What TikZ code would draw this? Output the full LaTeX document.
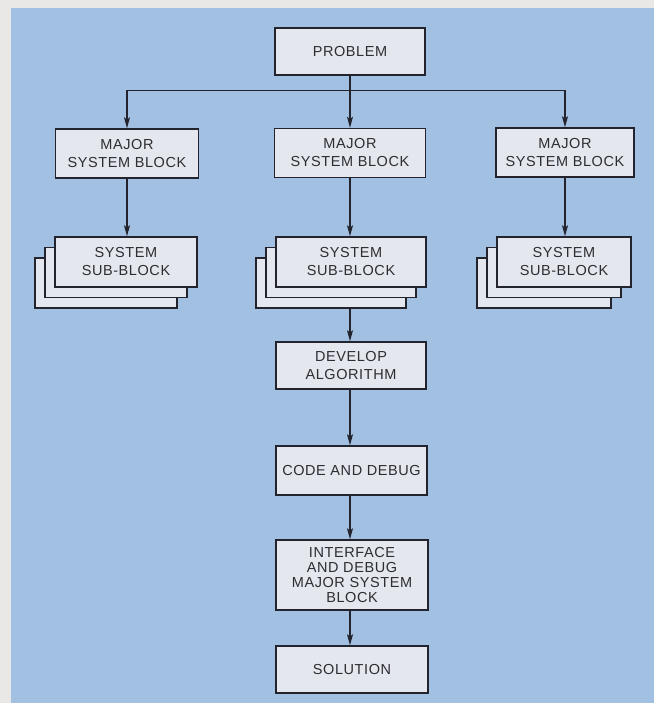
\documentclass[tikz,border=0pt]{standalone}
\usepackage{fontspec}
\setmainfont{Liberation Sans}[LetterSpace=4]
\usetikzlibrary{arrows.meta}
\definecolor{outerbg}{RGB}{234,232,230}
\definecolor{bluebg}{RGB}{162,192,226}
\definecolor{boxfill}{RGB}{229,231,238}
\definecolor{ink}{RGB}{35,35,45}
\definecolor{txt}{RGB}{45,45,52}
\tikzset{
  blk/.style={draw=ink, line width=1.5pt, fill=boxfill, rectangle, inner sep=0pt,
    align=center, text=txt, font=\fontsize{14.5}{18}\selectfont},
  arr/.style={draw=ink, line width=1.5pt, -{Stealth[length=11pt,width=6pt,inset=2.5pt]}},
  ln/.style={draw=ink, line width=1.5pt},
}
\begin{document}
\begin{tikzpicture}[x=1pt,y=-1pt]
\useasboundingbox (0,0) rectangle (654,703);
\fill[outerbg] (0,0) rectangle (654,703);
\fill[bluebg] (11,8) rectangle (654,703);

\node[blk, minimum width=150pt, minimum height=47pt] (prob) at (350,51.5) {PROBLEM};

\node[blk, minimum width=143pt, minimum height=49pt] (maj1) at (127,153.5) {MAJOR\\SYSTEM BLOCK};
\node[blk, minimum width=151pt, minimum height=49pt] (maj2) at (350,153) {MAJOR\\SYSTEM BLOCK};
\node[blk, minimum width=138pt, minimum height=49pt] (maj3) at (565,152.5) {MAJOR\\SYSTEM BLOCK};

% sub-block stacks (back copies first)
\node[blk, minimum width=142pt, minimum height=50pt] (sub1c) at (106,283) {};
\node[blk, minimum width=142pt, minimum height=50pt] (sub1b) at (116,272.5) {};
\node[blk, minimum width=142pt, minimum height=50pt] (sub1) at (126,262) {SYSTEM\\SUB-BLOCK};

\node[blk, minimum width=150pt, minimum height=50pt] (sub2c) at (331,283) {};
\node[blk, minimum width=150pt, minimum height=50pt] (sub2b) at (341,272.5) {};
\node[blk, minimum width=150pt, minimum height=50pt] (sub2) at (351,262) {SYSTEM\\SUB-BLOCK};

\node[blk, minimum width=134pt, minimum height=50pt] (sub3c) at (544,283) {};
\node[blk, minimum width=134pt, minimum height=50pt] (sub3b) at (554,272.5) {};
\node[blk, minimum width=134pt, minimum height=50pt] (sub3) at (564,262) {SYSTEM\\SUB-BLOCK};

\node[blk, minimum width=150pt, minimum height=47pt] (dev) at (351,365.5) {DEVELOP\\ALGORITHM};
\node[blk, minimum width=151pt, minimum height=49pt] (code) at (351.5,470.5) {CODE AND DEBUG};
\node[blk, minimum width=152pt, minimum height=70pt, font=\fontsize{14.5}{14.8}\selectfont] (intf) at (352,575) {INTERFACE\\AND DEBUG\\MAJOR SYSTEM\\BLOCK};
\node[blk, minimum width=152pt, minimum height=47pt] (sol) at (352,669.5) {SOLUTION};

% connectors
\coordinate (bus) at (350,90.5);
\draw[arr] (prob.south) -- (prob.south |- maj2.north);
\draw[ln] (maj1.north |- bus) -- (maj3.north |- bus);
\draw[arr] (maj1.north |- bus) -- (maj1.north);
\draw[arr] (maj3.north |- bus) -- (maj3.north);

\draw[arr] (maj1.south) -- (maj1.south |- sub1.north);
\draw[arr] (maj2.south) -- (maj2.south |- sub2.north);
\draw[arr] (maj3.south) -- (maj3.south |- sub3.north);

\draw[arr] (sub2c.south -| prob.south) -- (prob.south |- dev.north);
\draw[arr] (dev.south -| prob.south) -- (prob.south |- code.north);
\draw[arr] (code.south -| prob.south) -- (prob.south |- intf.north);
\draw[arr] (intf.south -| prob.south) -- (prob.south |- sol.north);
\end{tikzpicture}
\end{document}
